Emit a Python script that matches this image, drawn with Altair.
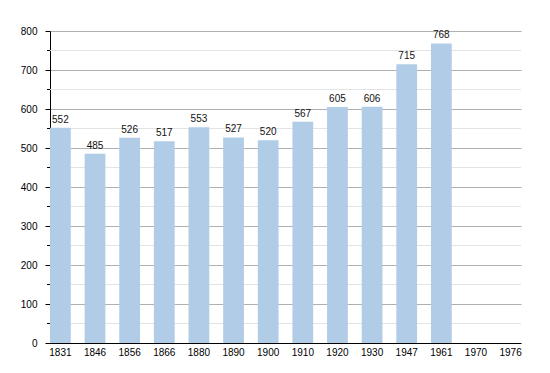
import altair as alt
import pandas as pd

years = ["1831", "1846", "1856", "1866", "1880", "1890", "1900", "1910", "1920", "1930", "1947", "1961", "1970", "1976"]
population = [552, 485, 526, 517, 553, 527, 520, 567, 605, 606, 715, 768, None, None]
major_ticks = [0, 100, 200, 300, 400, 500, 600, 700, 800]
minor_ticks = [50, 150, 250, 350, 450, 550, 650, 750]

W, H = 471, 312
FONT = "Liberation Sans"

df = pd.DataFrame({"year": years, "pop": population})
bars_df = df.dropna()
minor_df = pd.DataFrame({"v": minor_ticks})

yscale = alt.Scale(domain=[0, 800], nice=False)
xscale = alt.Scale(domain=years, paddingInner=0.4, paddingOuter=0)
yaxis = alt.Axis(values=major_ticks, labelFont=FONT, labelFontSize=10, labelColor="#000",
                 domainColor="#000", tickColor="#000", tickSize=5, labelPadding=8,
                 grid=True, gridColor="#b0b0b0", gridWidth=1)

minor_grid = alt.Chart(minor_df).mark_rule(color="#e4e4e4", strokeWidth=1).encode(
    y=alt.Y("v:Q", scale=yscale, axis=yaxis, title=None),
    x=alt.value(0), x2=alt.value(W),
)
minor_tick = alt.Chart(minor_df).mark_rule(color="#000000", strokeWidth=1).encode(
    y=alt.Y("v:Q", scale=yscale, axis=yaxis, title=None),
    x=alt.value(-3), x2=alt.value(0),
)

base = alt.Chart(bars_df).encode(
    x=alt.X("year:N", scale=xscale, sort=years, title=None,
            axis=alt.Axis(labelAngle=0, labelFont=FONT, labelFontSize=10, labelColor="#000",
                          domainColor="#000", ticks=False, labelPadding=4, grid=False)),
    y=alt.Y("pop:Q", scale=yscale, title=None, axis=yaxis),
)
bars = base.mark_bar(color="#b1cce6")
labels = base.mark_text(baseline="bottom", dy=-3, font=FONT, fontSize=10, color="#111").encode(
    text=alt.Text("pop:Q", format="d"))

chart = alt.layer(minor_grid, bars, labels, minor_tick).properties(
    width=W, height=H,
    autosize=alt.AutoSizeParams(type="none"),
    padding={"left": 42, "top": 23, "right": 20, "bottom": 20},
).configure_view(stroke=None).configure_axis(domainWidth=1)

chart.save("out.html", embed_options={"renderer": "svg", "actions": False})
